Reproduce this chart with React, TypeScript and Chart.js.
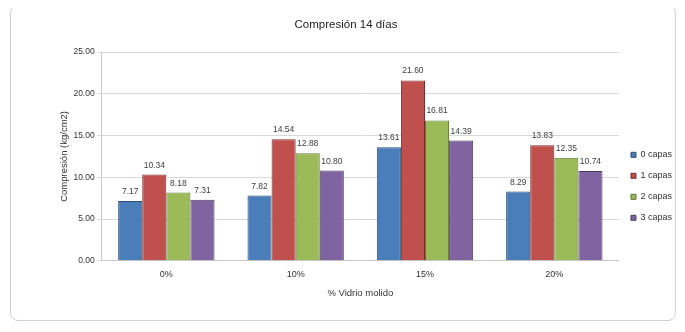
import React, { useEffect, useRef } from "react";
import { Chart, registerables } from "chart.js";

Chart.register(...registerables);

const chartTitle = "Compresión 14 días";
const categories = ["0%", "10%", "15%", "20%"];
const seriesNames = ["0 capas", "1 capas", "2 capas", "3 capas"];
const capas0 = [7.17, 7.82, 13.61, 8.29];
const capas1 = [10.34, 14.54, 21.6, 13.83];
const capas2 = [8.18, 12.88, 16.81, 12.35];
const capas3 = [7.31, 10.8, 14.39, 10.74];
const yTicks = [0, 5, 10, 15, 20, 25];

const colors = ["#4A7EBB", "#C0504D", "#9BBB59", "#8064A2"];
const borders = ["#2c4d75", "#772c2a", "#5f7530", "#4d3b62"];

const FONT = "'Liberation Sans', Arial, sans-serif";

const labelPlugin = {
  id: "barLabels",
  afterDatasetsDraw(chart: any) {
    const ctx = chart.ctx;
    ctx.save();
    ctx.font = `8.5px ${FONT}`;
    ctx.fillStyle = "#404040";
    ctx.textAlign = "center";
    ctx.textBaseline = "bottom";
    chart.data.datasets.forEach((ds: any, i: number) => {
      const meta = chart.getDatasetMeta(i);
      meta.data.forEach((bar: any, j: number) => {
        ctx.fillText(Number(ds.data[j]).toFixed(2), bar.x, bar.y - 5);
      });
    });
    ctx.restore();
  },
};

export default function App() {
  const ref = useRef<HTMLCanvasElement>(null);
  useEffect(() => {
    const seriesData = [capas0, capas1, capas2, capas3];
    const chart = new Chart(ref.current!, {
      type: "bar",
      data: {
        labels: categories,
        datasets: seriesNames.map((name, i) => ({
          label: name,
          data: seriesData[i],
          backgroundColor: colors[i],
          borderColor: borders[i],
          borderWidth: 1,
          categoryPercentage: 0.745,
          barPercentage: 1,
        })),
      },
      options: {
        animation: false,
        responsive: false,
        maintainAspectRatio: false,
        layout: { padding: { left: 59, right: 3, top: 52, bottom: 33 } },
        plugins: {
          title: { display: false },
          legend: {
            position: "right",
            title: {
              display: true,
              text: " ",
              font: { family: FONT, size: 8 },
              padding: { top: 6, bottom: 6 },
            },
            labels: {
              boxWidth: 5,
              boxHeight: 5,
              padding: 12,
              color: "#333",
              font: { family: FONT, size: 9 },
            },
          },
          tooltip: { enabled: false },
        },
        scales: {
          x: {
            grid: { display: false, drawTicks: false },
            border: { display: true, color: "#c8c8c8" },
            ticks: { color: "#333", font: { family: FONT, size: 9 }, padding: 8 },
            title: {
              display: true,
              text: "% Vidrio molido",
              color: "#333",
              font: { family: FONT, size: 9.5 },
              padding: { top: 0, bottom: 0 },
            },
          },
          y: {
            min: 0,
            max: 25,
            afterBuildTicks(scale: any) {
              scale.ticks = yTicks.map((v) => ({ value: v }));
            },
            grid: { color: "#d9d9d9", drawTicks: true, tickLength: 4 },
            border: { display: true, color: "#c8c8c8" },
            ticks: {
              color: "#333",
              font: { family: FONT, size: 8.5 },
              padding: 3,
              callback: (v: any) => Number(v).toFixed(2),
            },
            title: {
              display: true,
              text: "Compresión (kg/cm2)",
              color: "#333",
              font: { family: FONT, size: 9.5 },
              padding: { top: 0, bottom: 0 },
            },
          },
        },
      },
      plugins: [labelPlugin],
    });
    return () => chart.destroy();
  }, []);
  return (
    <div style={{ position: "relative", margin: -8, width: 685, height: 332, background: "#fff" }}>
      <div
        style={{
          position: "absolute",
          left: 10,
          top: 5,
          width: 666,
          height: 316,
          border: "1px solid #d0d0d0",
          borderRadius: 8,
          boxSizing: "border-box",
        }}
      />
      <canvas ref={ref} width={685} height={332} style={{ position: "absolute", left: 0, top: 0 }} />
      <div
        style={{
          position: "absolute",
          left: 346,
          top: 25,
          transform: "translate(-50%, -50%)",
          whiteSpace: "nowrap",
          fontFamily: FONT,
          fontSize: 11.5,
          color: "#222",
          lineHeight: 1,
        }}
      >
        {chartTitle}
      </div>
    </div>
  );
}
